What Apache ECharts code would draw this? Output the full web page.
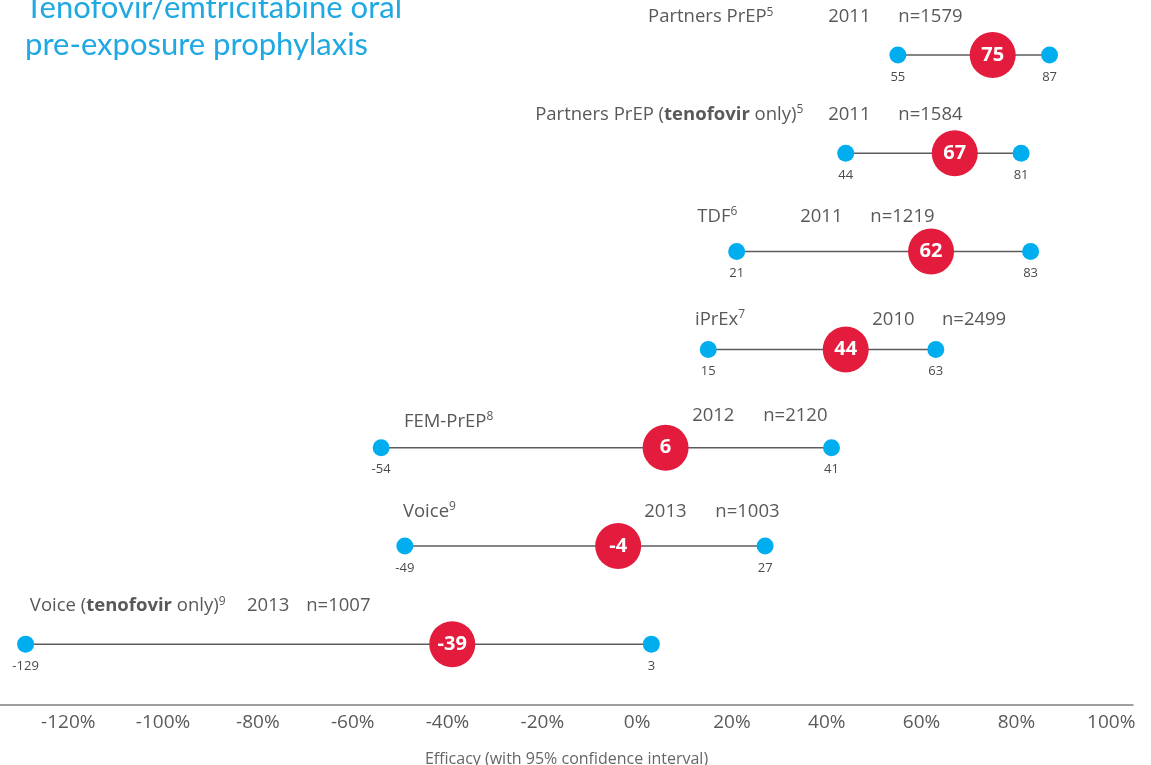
<!DOCTYPE html>
<html><head><meta charset="utf-8">
<script src="https://cdn.jsdelivr.net/npm/echarts@6/dist/echarts.min.js"></script>
<style>html,body{margin:0;padding:0;background:#fff}#c{width:1151px;height:765px}</style>
</head><body><div id="c"></div>
<script>
// ---- data ----
const studies = ['Partners PrEP', 'Partners PrEP ({b|tenofovir} only)', 'TDF', 'iPrEx', 'FEM-PrEP', 'Voice', 'Voice ({b|tenofovir} only)'];
const refs = ['5', '5', '6', '7', '8', '9', '9'];
const years = ['2011', '2011', '2011', '2010', '2012', '2013', '2013'];
const sampleSizes = [1579, 1584, 1219, 2499, 2120, 1003, 1007];
const efficacy = [75, 67, 62, 44, 6, -4, -39];
const ciLower = [55, 44, 21, 15, -54, -49, -129];
const ciUpper = [87, 81, 83, 63, 41, 27, 3];
const tickValues = [-120, -100, -80, -60, -40, -20, 0, 20, 40, 60, 80, 100];
const titleLines = ['Tenofovir/emtricitabine oral', 'pre-exposure prophylaxis'];
const axisTitle = 'Efficacy (with 95% confidence interval)';

// ---- layout (annotation anchors, in axis units; vertical offsets in px) ----
const nameAt = [2.3, -21.5, 12.7, 12.2, -49.2, -49.4, -128.1];
const yearAt = [40.3, 40.3, 34.4, 49.6, 11.6, 1.5, -82.3];
const nAt = [55.1, 55.1, 49.2, 64.3, 26.6, 16.5, -69.8];
const nameDy = [-38, -39, -35, -30, -26, -34, -38];
const yearDy = [-38, -39, -35, -30, -32, -34, -38];

const FONT = '"Open Sans", "Noto Sans", sans-serif';
const TEXT = '#595959';
const RED = '#e31b3c';
const BLUE = '#00aeef';

const rows = studies.map((_, i) => i);
const ciData = rows.map(i => [ciLower[i], ciUpper[i], i]);
const estData = rows.map(i => [efficacy[i], i]);
const labelData = rows.map(i => [0, i]);

function renderCI(params, api) {
  const r = api.value(2);
  const lo = api.coord([api.value(0), r]);
  const hi = api.coord([api.value(1), r]);
  const lab = (p, v) => ({
    type: 'text', x: p[0], y: p[1] + 22,
    style: { text: String(v), fill: '#4a4a4a', font: '13px ' + FONT, align: 'center', verticalAlign: 'middle' }
  });
  return {
    type: 'group', children: [
      { type: 'line', shape: { x1: lo[0], y1: lo[1], x2: hi[0], y2: hi[1] }, style: { stroke: '#5c5c5c', lineWidth: 1.5 } },
      { type: 'circle', shape: { cx: lo[0], cy: lo[1], r: 8.5 }, style: { fill: BLUE } },
      { type: 'circle', shape: { cx: hi[0], cy: hi[1], r: 8.5 }, style: { fill: BLUE } },
      lab(lo, api.value(0)), lab(hi, api.value(1))
    ]
  };
}

const rich = {
  b: { fontWeight: 'bold', fontSize: 18.5, fontFamily: FONT, fill: TEXT, lineHeight: 22 },
  sup: { fontSize: 12, fontFamily: FONT, fill: TEXT, verticalAlign: 'top', lineHeight: 13 }
};

function renderLabels(params, api) {
  const i = params.dataIndex;
  const r = api.value(1);
  const pName = api.coord([nameAt[i], r]);
  const pYear = api.coord([yearAt[i], r]);
  const pN = api.coord([nAt[i], r]);
  const base = { fill: TEXT, fontSize: 18.5, fontFamily: FONT, verticalAlign: 'middle', align: 'left', lineHeight: 22 };
  return {
    type: 'group', children: [
      { type: 'text', x: pName[0], y: pName[1] + nameDy[i], style: Object.assign({}, base, { text: studies[i] + '{sup|' + refs[i] + '}', rich: rich }) },
      { type: 'text', x: pYear[0], y: pYear[1] + yearDy[i], style: Object.assign({}, base, { text: years[i] }) },
      { type: 'text', x: pN[0], y: pN[1] + yearDy[i], style: Object.assign({}, base, { text: 'n=' + sampleSizes[i] }) }
    ]
  };
}

const chart = echarts.init(document.getElementById('c'));
chart.setOption({
  backgroundColor: '#fff',
  animation: false,
  grid: { left: 0, right: 18, top: 6, bottom: 60, containLabel: false, outerBoundsMode: 'none' },
  xAxis: {
    type: 'value', min: -134.4, max: 104.6,
    axisLine: { show: true, onZero: false, lineStyle: { color: '#808080', width: 1.5 } },
    axisTick: { show: false },
    splitLine: { show: false },
    axisLabel: { customValues: tickValues, formatter: '{value}%', color: '#5a5a5a', fontSize: 19, fontFamily: FONT, margin: 8 },
    name: axisTitle, nameLocation: 'middle', nameGap: 46,
    nameTextStyle: { color: '#666', fontSize: 16, fontFamily: FONT }
  },
  yAxis: { type: 'value', inverse: true, min: -0.5, max: 6.62, show: false },
  graphic: [{
    type: 'text', left: 25, top: -10.5,
    style: { text: titleLines.join('\n'), fill: '#1fa8e2', font: '31px Lato, "Open Sans", sans-serif', lineHeight: 37 }
  }],
  series: [
    { type: 'custom', name: 'CI', renderItem: renderCI, data: ciData, encode: { x: [0, 1], y: 2 }, z: 2, clip: false },
    {
      type: 'scatter', name: 'Efficacy', data: estData, symbolSize: 46, z: 3,
      itemStyle: { color: RED, opacity: 1 },
      label: { show: true, position: 'inside', formatter: p => String(p.value[0]), color: '#fff', fontSize: 20, fontWeight: 'bold', fontFamily: FONT }
    },
    { type: 'custom', name: 'Labels', renderItem: renderLabels, data: labelData, z: 4, clip: false, silent: true }
  ]
});
</script>
</body></html>
